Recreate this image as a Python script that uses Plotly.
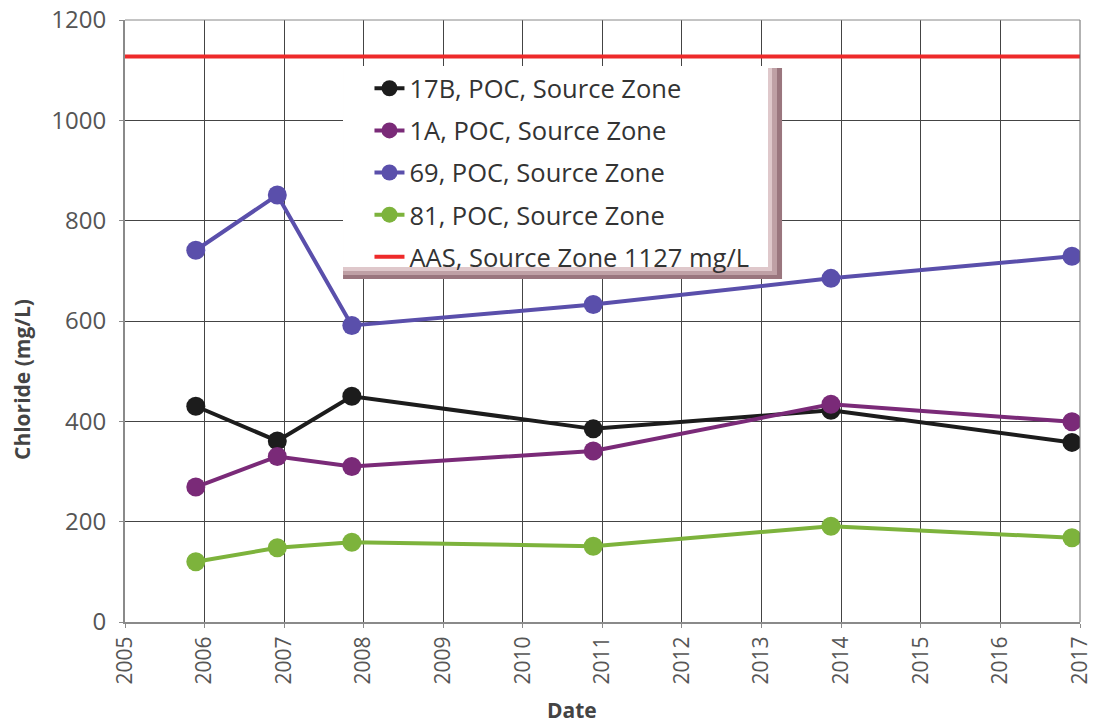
import plotly.graph_objects as go

dates = ["2005-11-22", "2006-12-01", "2007-11-08", "2010-11-20", "2013-11-15", "2016-11-25"]
v17b = [430, 361, 450, 385, 422, 358]
v1a = [269, 330, 310, 341, 434, 399]
v69 = [741, 851, 591, 633, 685, 729]
v81 = [120, 148, 159, 151, 191, 168]
aas_value = 1127
aas_dates = ["2005-01-01", "2017-01-01"]

names = ["17B, POC, Source Zone", "1A, POC, Source Zone", "69, POC, Source Zone", "81, POC, Source Zone"]
colors = ["#1c1c1c", "#7a2a78", "#5a4fab", "#7db33c"]
series = [v17b, v1a, v69, v81]

fig = go.Figure()
for i, (n, c, v) in enumerate(zip(names, colors, series)):
    fig.add_trace(go.Scatter(x=dates, y=v, name=n, mode="lines+markers",
                             line=dict(color=c, width=4),
                             marker=dict(color=c, size=19),
                             legendgroup=f"g{i}"))
fig.add_trace(go.Scatter(x=aas_dates, y=[aas_value, aas_value], name="AAS, Source Zone 1127 mg/L",
                         mode="lines", line=dict(color="#ee2a2a", width=4), legendgroup="g5"))

font = "Open Sans"
fig.update_layout(
    width=1093, height=724,
    margin=dict(l=125, r=13, t=20, b=102),
    paper_bgcolor="white", plot_bgcolor="white",
    font=dict(family=font, color="#555555", size=20),
    showlegend=True,
    legend=dict(x=0.256, y=0.925, xanchor="left", yanchor="top",
                bgcolor="rgba(0,0,0,0)", font=dict(size=25.5, color="#333333"),
                tracegroupgap=6, traceorder="grouped"),
    xaxis=dict(type="date", range=["2005-01-01", "2017-01-01"], dtick="M12",
               tick0="2005-01-01", tickformat="%Y", tickangle=-90,
               showgrid=True, gridcolor="#444444", gridwidth=1,
               showline=True, linecolor="#8a8a8a", linewidth=2,
               ticks="outside", ticklen=4, tickcolor="#8a8a8a",
               automargin=False, ticklabeloverflow="allow",
               tickfont=dict(size=21, color="#555555")),
    yaxis=dict(range=[0, 1200], dtick=200,
               showgrid=True, gridcolor="#444444", gridwidth=1,
               showline=True, linecolor="#8a8a8a", linewidth=2,
               ticks="outside", ticklen=4, tickcolor="#8a8a8a",
               ticklabelstandoff=8, ticklabeloverflow="allow",
               zeroline=False, automargin=False,
               tickfont=dict(size=24, color="#555555")),
)
fig.add_annotation(text="<b>Chloride (mg/L)</b>", xref="paper", yref="paper", x=0, y=0.402,
                   xanchor="center", yanchor="middle", xshift=-103, textangle=-90, showarrow=False,
                   font=dict(size=21, color="#444444"))
fig.add_annotation(text="<b>Date</b>", xref="paper", yref="paper", x=0.468, y=0,
                   xanchor="center", yanchor="middle", yshift=-88, showarrow=False,
                   font=dict(size=21, color="#444444"))
# right/top border lines
fig.add_shape(type="line", xref="paper", yref="paper", x0=1, x1=1, y0=0, y1=1,
              line=dict(color="#666666", width=1))
fig.add_shape(type="line", xref="paper", yref="paper", x0=0, x1=1, y0=1, y1=1,
              line=dict(color="#888888", width=1))
# legend box background and shadow (layered for a soft gradient)
shadow = [
    (0.6880, 0.5698, "#9a767e"),
    (0.6827, 0.5764, "#bfa0a5"),
    (0.6775, 0.5831, "#dfc8cb"),
]
for x1, y0, col in shadow:
    fig.add_shape(type="rect", xref="paper", yref="paper", x0=0.2283, x1=x1, y0=y0, y1=0.9203,
                  fillcolor=col, line=dict(width=0), layer="above")
fig.add_shape(type="rect", xref="paper", yref="paper", x0=0.2283, x1=0.6733, y0=0.5897, y1=0.9236,
              fillcolor="white", line=dict(width=0), layer="above")

fig.write_html("out.html", config={"displayModeBar": False},
               post_script="document.body.style.margin='0px';")
